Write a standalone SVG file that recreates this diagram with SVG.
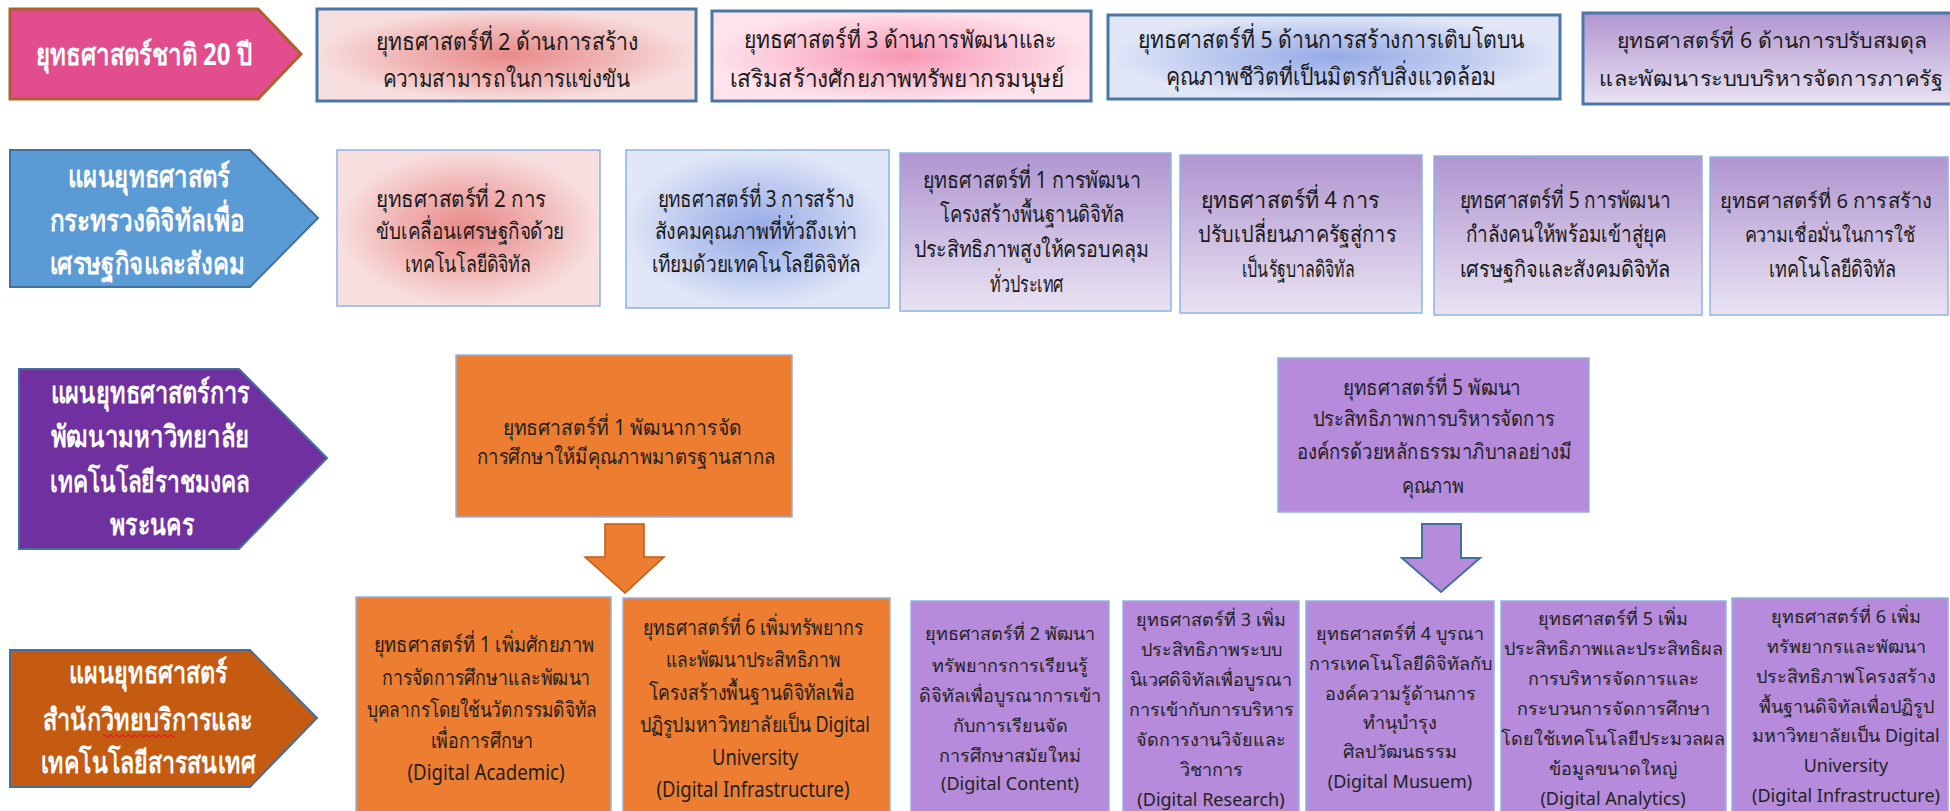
<svg xmlns="http://www.w3.org/2000/svg" width="1950" height="811" viewBox="0 0 1950 811">
<style>
text{font-family:"Noto Sans","DejaVu Sans",sans-serif;text-anchor:middle}
.w{fill:#ffffff;font-size:30px;font-weight:bold}
.t1{fill:#1a1a1a;font-size:24px}
.t1s{fill:#1a1a1a;font-size:21px}
.t2{fill:#1a1a1a;font-size:23px}
.t2s{fill:#1a1a1a;font-size:20px}
.t3{fill:#1e1e1e;font-size:21px}
.t4{fill:#222222;font-size:18px}
.bx{stroke:#8EB4E3;stroke-width:1.5}
.top{stroke:#4A76A8;stroke-width:3}
.org{fill:#ED7D31}
.pur{fill:#B68BDB}
</style>
<defs>
<radialGradient id="gPink"><stop offset="0" stop-color="#E88A88"/><stop offset="0.55" stop-color="#F0B5B4"/><stop offset="1" stop-color="#F8DFDF"/></radialGradient>
<radialGradient id="gHot"><stop offset="0" stop-color="#F797B4"/><stop offset="0.55" stop-color="#FBC1D3"/><stop offset="1" stop-color="#FEE3EC"/></radialGradient>
<radialGradient id="gBlue"><stop offset="0" stop-color="#97ABE6"/><stop offset="0.55" stop-color="#BCC9EF"/><stop offset="1" stop-color="#E1E7F7"/></radialGradient>
<linearGradient id="gPur" x1="0" y1="0" x2="0" y2="1"><stop offset="0" stop-color="#B095D0"/><stop offset="1" stop-color="#E9E3F2"/></linearGradient>
</defs>

<g id="n-national">
<polygon points="10,9 258,9 301,54 258,99 10,99" fill="#E24D8D" stroke="#B0602A" stroke-width="3"/>
<text class="w" x="144" y="65" textLength="216" lengthAdjust="spacingAndGlyphs">ยุทธศาสตร์ชาติ 20 ปี</text>
</g>
<g id="n-nat2">
<rect x="317" y="9" width="379" height="92" fill="url(#gPink)" class="top"/>
<text class="t1" x="507" y="50" textLength="263" lengthAdjust="spacingAndGlyphs">ยุทธศาสตร์ที่ 2 ด้านการสร้าง</text>
<text class="t1" x="506" y="87" textLength="247" lengthAdjust="spacingAndGlyphs">ความสามารถในการแข่งขัน</text>
</g>
<g id="n-nat3">
<rect x="712" y="11" width="379" height="90" fill="url(#gHot)" class="top"/>
<text class="t1" x="900" y="48" textLength="313" lengthAdjust="spacingAndGlyphs">ยุทธศาสตร์ที่ 3 ด้านการพัฒนาและ</text>
<text class="t1" x="897" y="87" textLength="335" lengthAdjust="spacingAndGlyphs">เสริมสร้างศักยภาพทรัพยากรมนุษย์</text>
</g>
<g id="n-nat5">
<rect x="1108" y="15" width="452" height="84" fill="url(#gBlue)" class="top"/>
<text class="t1" x="1331" y="48" textLength="387" lengthAdjust="spacingAndGlyphs">ยุทธศาสตร์ที่ 5 ด้านการสร้างการเติบโตบน</text>
<text class="t1" x="1331" y="85" textLength="331" lengthAdjust="spacingAndGlyphs">คุณภาพชีวิตที่เป็นมิตรกับสิ่งแวดล้อม</text>
</g>
<g id="n-nat6">
<rect x="1583" y="13" width="400" height="91" fill="url(#gPur)" class="top"/>
<text class="t1s" x="1772" y="48" textLength="311" lengthAdjust="spacingAndGlyphs">ยุทธศาสตร์ที่ 6 ด้านการปรับสมดุล</text>
<text class="t1s" x="1771" y="86" textLength="344" lengthAdjust="spacingAndGlyphs">และพัฒนาระบบบริหารจัดการภาครัฐ</text>
</g>

<g id="n-mdes">
<polygon points="10,150 250,150 318,218 250,287 10,287" fill="#5B9BD5" stroke="#41719C" stroke-width="2"/>
<text class="w" x="149" y="187" textLength="162" lengthAdjust="spacingAndGlyphs">แผนยุทธศาสตร์</text>
<text class="w" x="147" y="231" textLength="195" lengthAdjust="spacingAndGlyphs">กระทรวงดิจิทัลเพื่อ</text>
<text class="w" x="147" y="274" textLength="195" lengthAdjust="spacingAndGlyphs">เศรษฐกิจและสังคม</text>
</g>
<g id="n-mdes2">
<rect x="337" y="150" width="263" height="156" fill="url(#gPink)" class="bx"/>
<text class="t2" x="461" y="207" textLength="170" lengthAdjust="spacingAndGlyphs">ยุทธศาสตร์ที่ 2 การ</text>
<text class="t2" x="470" y="239" textLength="188" lengthAdjust="spacingAndGlyphs">ขับเคลื่อนเศรษฐกิจด้วย</text>
<text class="t2" x="468" y="272" textLength="126" lengthAdjust="spacingAndGlyphs">เทคโนโลยีดิจิทัล</text>
</g>
<g id="n-mdes3">
<rect x="626" y="150" width="263" height="158" fill="url(#gBlue)" class="bx"/>
<text class="t2" x="756" y="207" textLength="197" lengthAdjust="spacingAndGlyphs">ยุทธศาสตร์ที่ 3 การสร้าง</text>
<text class="t2" x="756" y="239" textLength="203" lengthAdjust="spacingAndGlyphs">สังคมคุณภาพที่ทั่วถึงเท่า</text>
<text class="t2" x="756" y="272" textLength="209" lengthAdjust="spacingAndGlyphs">เทียมด้วยเทคโนโลยีดิจิทัล</text>
</g>
<g id="n-mdes1">
<rect x="900" y="153" width="271" height="158" fill="url(#gPur)" class="bx"/>
<text class="t2" x="1032" y="188" textLength="218" lengthAdjust="spacingAndGlyphs">ยุทธศาสตร์ที่ 1 การพัฒนา</text>
<text class="t2" x="1032" y="222" textLength="184" lengthAdjust="spacingAndGlyphs">โครงสร้างพื้นฐานดิจิทัล</text>
<text class="t2" x="1031" y="257" textLength="235" lengthAdjust="spacingAndGlyphs">ประสิทธิภาพสูงให้ครอบคลุม</text>
<text class="t2" x="1027" y="292" textLength="74" lengthAdjust="spacingAndGlyphs">ทั่วประเทศ</text>
</g>
<g id="n-mdes4">
<rect x="1180" y="155" width="242" height="158" fill="url(#gPur)" class="bx"/>
<text class="t2" x="1290" y="208" textLength="178" lengthAdjust="spacingAndGlyphs">ยุทธศาสตร์ที่ 4 การ</text>
<text class="t2" x="1297" y="242" textLength="198" lengthAdjust="spacingAndGlyphs">ปรับเปลี่ยนภาครัฐสู่การ</text>
<text class="t2" x="1298" y="277" textLength="113" lengthAdjust="spacingAndGlyphs">เป็นรัฐบาลดิจิทัล</text>
</g>
<g id="n-mdes5">
<rect x="1434" y="156" width="268" height="159" fill="url(#gPur)" class="bx"/>
<text class="t2" x="1565" y="208" textLength="211" lengthAdjust="spacingAndGlyphs">ยุทธศาสตร์ที่ 5 การพัฒนา</text>
<text class="t2" x="1566" y="242" textLength="201" lengthAdjust="spacingAndGlyphs">กำลังคนให้พร้อมเข้าสู่ยุค</text>
<text class="t2" x="1565" y="277" textLength="211" lengthAdjust="spacingAndGlyphs">เศรษฐกิจและสังคมดิจิทัล</text>
</g>
<g id="n-mdes6">
<rect x="1710" y="157" width="238" height="158" fill="url(#gPur)" class="bx"/>
<text class="t2s" x="1826" y="208" textLength="212" lengthAdjust="spacingAndGlyphs">ยุทธศาสตร์ที่ 6 การสร้าง</text>
<text class="t2s" x="1830" y="242" textLength="171" lengthAdjust="spacingAndGlyphs">ความเชื่อมั่นในการใช้</text>
<text class="t2" x="1832" y="277" textLength="127" lengthAdjust="spacingAndGlyphs">เทคโนโลยีดิจิทัล</text>
</g>

<g id="n-rmutp">
<polygon points="19,369 239,369 327,458 239,549 19,549" fill="#7030A0" stroke="#41719C" stroke-width="2"/>
<text class="w" x="150" y="403" textLength="199" lengthAdjust="spacingAndGlyphs">แผนยุทธศาสตร์การ</text>
<text class="w" x="150" y="447" textLength="199" lengthAdjust="spacingAndGlyphs">พัฒนามหาวิทยาลัย</text>
<text class="w" x="150" y="492" textLength="200" lengthAdjust="spacingAndGlyphs">เทคโนโลยีราชมงคล</text>
<text class="w" x="152" y="535" textLength="84" lengthAdjust="spacingAndGlyphs">พระนคร</text>
</g>
<g id="n-rmutp1">
<rect x="456" y="355" width="336" height="162" class="org bx"/>
<text class="t3" x="622" y="435" textLength="239" lengthAdjust="spacingAndGlyphs">ยุทธศาสตร์ที่ 1 พัฒนาการจัด</text>
<text class="t3" x="626" y="464" textLength="299" lengthAdjust="spacingAndGlyphs">การศึกษาให้มีคุณภาพมาตรฐานสากล</text>
</g>
<g id="n-rmutp5">
<rect x="1278" y="358" width="311" height="154" class="pur bx"/>
<text class="t3" x="1432" y="395" textLength="178" lengthAdjust="spacingAndGlyphs">ยุทธศาสตร์ที่ 5 พัฒนา</text>
<text class="t3" x="1434" y="426" textLength="242" lengthAdjust="spacingAndGlyphs">ประสิทธิภาพการบริหารจัดการ</text>
<text class="t3" x="1434" y="459" textLength="275" lengthAdjust="spacingAndGlyphs">องค์กรด้วยหลักธรรมาภิบาลอย่างมี</text>
<text class="t3" x="1433" y="493" textLength="63" lengthAdjust="spacingAndGlyphs">คุณภาพ</text>
</g>

<g id="n-arit">
<polygon points="10,650 250,650 317,718 250,787 10,787" fill="#C55A11" stroke="#41719C" stroke-width="2"/>
<text class="w" x="148" y="683" textLength="158" lengthAdjust="spacingAndGlyphs">แผนยุทธศาสตร์</text>
<text class="w" x="148" y="730" textLength="210" lengthAdjust="spacingAndGlyphs">สำนักวิทยบริการและ</text>
<text class="w" x="148" y="773" textLength="215" lengthAdjust="spacingAndGlyphs">เทคโนโลยีสารสนเทศ</text>
<path d="M103 736 q1.5 -2.2 3 0 t3 0 t3 0 t3 0 t3 0 t3 0 t3 0 t3 0 t3 0 t3 0 t3 0 t3 0 t3 0 t3 0 t3 0 t3 0 t3 0 t3 0 t3 0 t3 0 t3 0 t3 0 t3 0 t3 0" fill="none" stroke="#E02020" stroke-width="1.2"/>
</g>
<g id="n-arit1">
<rect x="356" y="597" width="255" height="230" class="org bx"/>
<text class="t3" x="484" y="652" textLength="221" lengthAdjust="spacingAndGlyphs">ยุทธศาสตร์ที่ 1 เพิ่มศักยภาพ</text>
<text class="t3" x="486" y="685" textLength="209" lengthAdjust="spacingAndGlyphs">การจัดการศึกษาและพัฒนา</text>
<text class="t3" x="482" y="717" textLength="230" lengthAdjust="spacingAndGlyphs">บุคลากรโดยใช้นวัตกรรมดิจิทัล</text>
<text class="t3" x="482" y="748" textLength="103" lengthAdjust="spacingAndGlyphs">เพื่อการศึกษา</text>
<text class="t3" x="486" y="780" textLength="157" lengthAdjust="spacingAndGlyphs">(Digital Academic)</text>
</g>
<g id="n-arit6">
<rect x="623" y="598" width="267" height="230" class="org bx"/>
<text class="t3" x="753" y="635" textLength="221" lengthAdjust="spacingAndGlyphs">ยุทธศาสตร์ที่ 6 เพิ่มทรัพยากร</text>
<text class="t3" x="753" y="667" textLength="175" lengthAdjust="spacingAndGlyphs">และพัฒนาประสิทธิภาพ</text>
<text class="t3" x="752" y="700" textLength="206" lengthAdjust="spacingAndGlyphs">โครงสร้างพื้นฐานดิจิทัลเพื่อ</text>
<text class="t3" x="755" y="732" textLength="230" lengthAdjust="spacingAndGlyphs">ปฏิรูปมหาวิทยาลัยเป็น Digital</text>
<text class="t3" x="755" y="765" textLength="86" lengthAdjust="spacingAndGlyphs">University</text>
<text class="t3" x="753" y="797" textLength="193" lengthAdjust="spacingAndGlyphs">(Digital Infrastructure)</text>
</g>
<g id="n-arit2">
<rect x="911" y="601" width="198" height="230" class="pur bx"/>
<text class="t4" x="1010" y="640">ยุทธศาสตร์ที่ 2 พัฒนา</text>
<text class="t4" x="1010" y="672">ทรัพยากรการเรียนรู้</text>
<text class="t4" x="1010" y="702">ดิจิทัลเพื่อบูรณาการเข้า</text>
<text class="t4" x="1010" y="732">กับการเรียนจัด</text>
<text class="t4" x="1010" y="762">การศึกษาสมัยใหม่</text>
<text class="t4" x="1010" y="790">(Digital Content)</text>
</g>
<g id="n-arit3">
<rect x="1123" y="601" width="176" height="230" class="pur bx"/>
<text class="t4" x="1211" y="626">ยุทธศาสตร์ที่ 3 เพิ่ม</text>
<text class="t4" x="1211" y="656">ประสิทธิภาพระบบ</text>
<text class="t4" x="1211" y="686">นิเวศดิจิทัลเพื่อบูรณา</text>
<text class="t4" x="1211" y="716">การเข้ากับการบริหาร</text>
<text class="t4" x="1211" y="746">จัดการงานวิจัยและ</text>
<text class="t4" x="1211" y="776">วิชาการ</text>
<text class="t4" x="1211" y="806">(Digital Research)</text>
</g>
<g id="n-arit4">
<rect x="1306" y="601" width="188" height="230" class="pur bx"/>
<text class="t4" x="1400" y="640">ยุทธศาสตร์ที่ 4 บูรณา</text>
<text class="t4" x="1400" y="670">การเทคโนโลยีดิจิทัลกับ</text>
<text class="t4" x="1400" y="700">องค์ความรู้ด้านการ</text>
<text class="t4" x="1400" y="729">ทำนุบำรุง</text>
<text class="t4" x="1400" y="758">ศิลปวัฒนธรรม</text>
<text class="t4" x="1400" y="788">(Digital Musuem)</text>
</g>
<g id="n-arit5">
<rect x="1501" y="601" width="225" height="230" class="pur bx"/>
<text class="t4" x="1613" y="625">ยุทธศาสตร์ที่ 5 เพิ่ม</text>
<text class="t4" x="1613" y="655">ประสิทธิภาพและประสิทธิผล</text>
<text class="t4" x="1613" y="685">การบริหารจัดการและ</text>
<text class="t4" x="1613" y="715">กระบวนการจัดการศึกษา</text>
<text class="t4" x="1613" y="745">โดยใช้เทคโนโลยีประมวลผล</text>
<text class="t4" x="1613" y="775">ข้อมูลขนาดใหญ่</text>
<text class="t4" x="1613" y="805">(Digital Analytics)</text>
</g>
<g id="n-arit6b">
<rect x="1732" y="598" width="216" height="230" class="pur bx"/>
<text class="t4" x="1846" y="623">ยุทธศาสตร์ที่ 6 เพิ่ม</text>
<text class="t4" x="1846" y="653">ทรัพยากรและพัฒนา</text>
<text class="t4" x="1846" y="683">ประสิทธิภาพโครงสร้าง</text>
<text class="t4" x="1846" y="713">พื้นฐานดิจิทัลเพื่อปฏิรูป</text>
<text class="t4" x="1846" y="742">มหาวิทยาลัยเป็น Digital</text>
<text class="t4" x="1846" y="772">University</text>
<text class="t4" x="1846" y="802">(Digital Infrastructure)</text>
</g>

<g id="connectors">
<path d="M605 524 H644 V557 H664 L625 593 L585 557 H605 Z" fill="#ED7D31" stroke="#C55A11" stroke-width="1.5"/>
<path d="M1422 524 H1461 V558 H1480 L1441 592 L1402 558 H1422 Z" fill="#B68BDB" stroke="#41719C" stroke-width="2"/>
</g>
</svg>
